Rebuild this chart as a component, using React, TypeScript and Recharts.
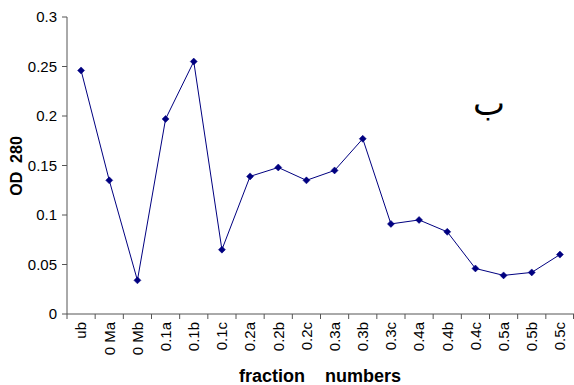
import { Customized, Line, LineChart, XAxis, YAxis } from 'recharts';

const fractions = [
	'ub', '0 Ma', '0 Mb', '0.1a', '0.1b', '0.1c', '0.2a', '0.2b', '0.2c',
	'0.3a', '0.3b', '0.3c', '0.4a', '0.4b', '0.4c', '0.5a', '0.5b', '0.5c',
];
const od280 = [
	0.246, 0.135, 0.034, 0.197, 0.255, 0.065, 0.139, 0.148, 0.135,
	0.145, 0.177, 0.091, 0.095, 0.083, 0.046, 0.039, 0.042, 0.06,
];
const yTicks = [0, 0.05, 0.1, 0.15, 0.2, 0.25, 0.3];

const data = fractions.map((name, i) => ({ name, od: od280[i] }));

const FONT = '"Liberation Sans", Arial, sans-serif';
const NAVY = '#000080';
const AXIS = '#555555';

const Diamond = ({ cx, cy }: { cx?: number; cy?: number }) => {
	if (cx == null || cy == null) return null;
	const r = 3.5;
	return (
		<path
			d={`M${cx},${cy - r}L${cx + r},${cy}L${cx},${cy + r}L${cx - r},${cy}Z`}
			fill={NAVY}
			stroke={NAVY}
			strokeWidth={0.5}
		/>
	);
};

// ticks sit on the band edges, Excel style
const XTick = (props: any) => {
	const { x, y, payload, index, visibleTicksCount } = props;
	const half = payload?.offset || 14.1;
	const top = y - 8;
	const last = index === visibleTicksCount - 1;
	return (
		<g>
			<line x1={x - half} x2={x - half} y1={top} y2={top + 5} stroke={AXIS} />
			{last && <line x1={x + half - 0.5} x2={x + half - 0.5} y1={top} y2={top + 5} stroke={AXIS} />}
			<text
				x={x}
				y={top + 8}
				transform={`rotate(-90 ${x} ${top + 8})`}
				textAnchor="end"
				dy="0.35em"
				fontSize={15}
				fontFamily={FONT}
				fill="#000"
			>
				{payload.value}
			</text>
		</g>
	);
};

const Annotations = () => (
	<g fontFamily={FONT} fill="#000">
		<text
			x={16}
			y={166}
			transform="rotate(-90 16 166)"
			textAnchor="middle"
			dy="0.35em"
			fontSize={16}
			fontWeight="bold"
			style={{ whiteSpace: 'pre' }}
		>
			{'OD  280'}
		</text>
		<text
			x={320}
			y={382}
			textAnchor="middle"
			fontSize={18}
			fontWeight="bold"
			style={{ whiteSpace: 'pre' }}
		>
			{'fraction    numbers'}
		</text>
		<text x={489} y={115} textAnchor="middle" fontSize={34} fontFamily="'DejaVu Sans', sans-serif">
			ب
		</text>
	</g>
);

export default function App() {
	return (
		<div style={{ position: 'absolute', left: 0, top: 0, background: '#fff' }}>
			<LineChart
				width={574}
				height={385}
				data={data}
				margin={{ top: 17, right: 0, bottom: 0, left: 0 }}
			>
				<XAxis
					dataKey="name"
					scale="band"
					height={71}
					interval={0}
					tickLine={false}
					tick={<XTick />}
					stroke={AXIS}
				/>
				<YAxis
					width={67}
					domain={[0, 0.3]}
					ticks={yTicks}
					tickSize={5}
					tickMargin={5}
					stroke={AXIS}
					tick={{ fill: '#000', fontSize: 15, fontFamily: FONT }}
				/>
				<Line
					dataKey="od"
					stroke={NAVY}
					strokeWidth={1}
					dot={<Diamond />}
					activeDot={false}
					isAnimationActive={false}
				/>
				<Customized component={Annotations} />
			</LineChart>
		</div>
	);
}
